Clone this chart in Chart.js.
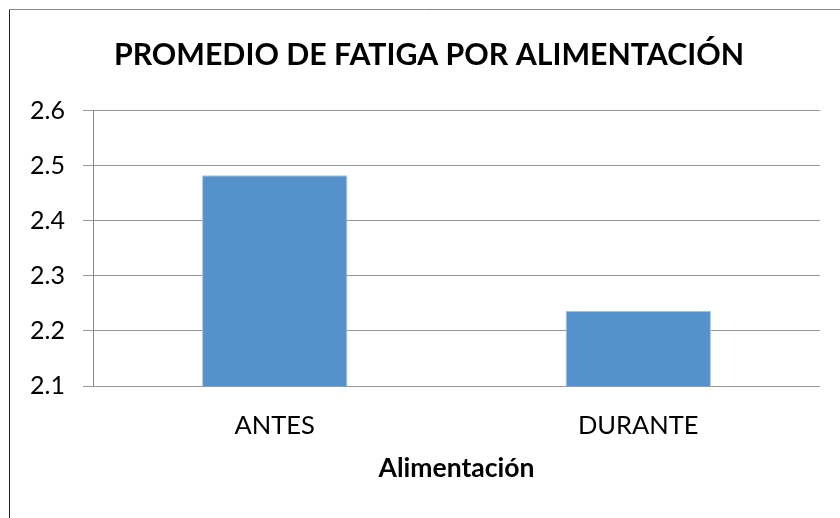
<!DOCTYPE html>
<html>
<head>
<meta charset="utf-8">
<script src="https://cdn.jsdelivr.net/npm/chart.js@4"></script>
<style>
  html, body { margin: 0; padding: 0; background: #fff; }
  #wrap { width: 840px; height: 518px; position: relative; }
</style>
</head>
<body>
<div id="wrap"><canvas id="chart" width="840" height="518"></canvas></div>
<script>
  // datos
  var categorias = ['ANTES', 'DURANTE'];
  var promedios = [2.483, 2.237];
  var ejeY = { min: 2.1, max: 2.6, paso: 0.1 };

  var fuente = 'Lato, "Open Sans", sans-serif';

  //marco del grafico (solo se ven borde izquierdo y superior)
  var marco = {
    id: 'marco',
    beforeDraw: function(chart){
      var ctx = chart.ctx;
      ctx.save();
      ctx.fillStyle = '#fff';
      ctx.fillRect(0, 0, chart.width, chart.height);
      ctx.lineWidth = 1;
      ctx.strokeStyle = '#888';
      ctx.beginPath();
      ctx.moveTo(9.5, 9.5);
      ctx.lineTo(chart.width, 9.5);
      ctx.stroke();
      ctx.strokeStyle = '#222';
      ctx.beginPath();
      ctx.moveTo(9.5, 9.5);
      ctx.lineTo(9.5, chart.height);
      ctx.stroke();
      ctx.restore();
    }
  };

  new Chart(document.getElementById('chart'), {
    type: 'bar',
    data: {
      labels: categorias,
      datasets: [{
        data: promedios,
        backgroundColor: '#5592cb',
        borderColor: '#a8c6e6',
        borderWidth: 1,
        barPercentage: 0.4,
        categoryPercentage: 1
      }]
    },
    options: {
      responsive: false,
      animation: false,
      devicePixelRatio: 1,
      // padding izquierdo para centrar el titulo como en el original
      layout: { padding: { left: 18, right: 0, top: 10, bottom: 0 } },
      plugins: {
        legend: { display: false },
        tooltip: { enabled: false },
        title: {
          display: true,
          text: 'PROMEDIO DE FATIGA POR ALIMENTACIÓN',
          color: '#000',
          font: { family: fuente, size: 30.3, weight: 'bold', lineHeight: 1.2 },
          padding: { top: 27, bottom: 37.6 }
        }
      },
      scales: {
        x: {
          grid: { display: false },
          border: { display: false },
          ticks: { color: '#000', font: { family: fuente, size: 25.5 }, padding: 16 },
          title: {
            display: true,
            text: 'Alimentación',
            color: '#000',
            font: { family: fuente, size: 26.5, weight: 'bold' },
            padding: { top: 4, bottom: 34 }
          },
          afterFit: function(s){ s.height = 132; }
        },
        y: {
          min: ejeY.min,
          max: ejeY.max,
          ticks: {
            stepSize: ejeY.paso,
            color: '#000',
            padding: 18,
            font: { family: fuente, size: 25 },
            callback: function(v){ return v.toFixed(1); }
          },
          grid: { color: '#999', lineWidth: 1, tickLength: 10 },
          border: { color: '#888' },
          afterFit: function(s){ s.width = 75; }
        },
        // eje vacio a la derecha, solo reserva el margen
        margen: {
          position: 'right',
          grid: { display: false },
          border: { display: false },
          ticks: { display: false },
          afterFit: function(s){ s.width = 20; }
        }
      }
    },
    plugins: [marco]
  });
</script>
</body>
</html>
